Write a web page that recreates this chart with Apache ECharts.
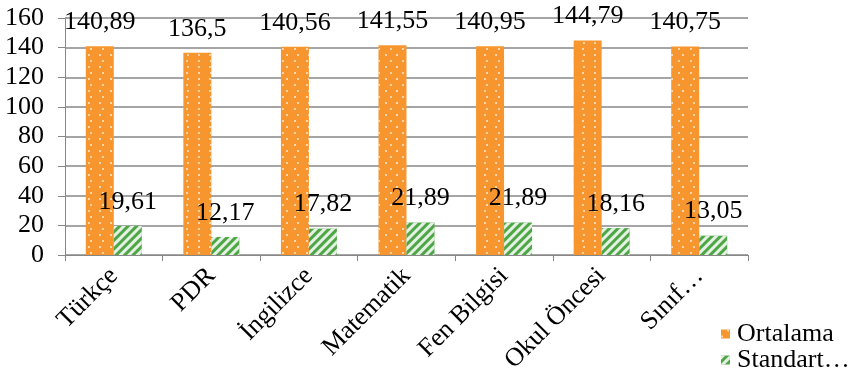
<!DOCTYPE html>
<html>
<head>
<meta charset="utf-8">
<script src="https://cdn.jsdelivr.net/npm/echarts@6/dist/echarts.min.js"></script>
<style>
  html, body { margin: 0; padding: 0; background: #fff; }
  #chart { width: 861px; height: 383px; }
</style>
</head>
<body>
<div id="chart"></div>
<script>
// Bölüm kategorileri ve seriler
const categories = ['Türkçe', 'PDR', 'İngilizce', 'Matematik', 'Fen Bilgisi', 'Okul Öncesi', 'Sınıf…'];
const ortalama = [140.89, 136.5, 140.56, 141.55, 140.95, 144.79, 140.75];
const standartSapma = [19.61, 12.17, 17.82, 21.89, 21.89, 18.16, 13.05];
const seriesNames = ['Ortalama', 'Standart…'];
const yTicks = [0, 20, 40, 60, 80, 100, 120, 140, 160];

const FONT = '"Liberation Serif", "Times New Roman", serif';
const GRAY = '#878787';

// Türkçe ondalık ayırıcı (virgül)
const fmt = v => String(v).replace('.', ',');

const chart = echarts.init(document.getElementById('chart'), null, { renderer: 'canvas' });

const labelStyle = {
  show: true,
  position: 'top',
  distance: 11,
  color: '#000',
  fontFamily: FONT,
  fontSize: 26,
  formatter: p => fmt(p.value)
};

chart.setOption({
  animation: false,
  backgroundColor: '#fff',
  grid: { left: 65, right: 113, top: 18, bottom: 128, containLabel: false },
  legend: {
    orient: 'vertical',
    left: 716,
    top: 316,
    itemWidth: 9,
    itemHeight: 9,
    itemGap: 0,
    icon: 'rect',
    textStyle: { fontFamily: FONT, fontSize: 26, lineHeight: 24, color: '#000', padding: [0, 0, 0, 2] },
    data: seriesNames
  },
  xAxis: {
    type: 'category',
    data: categories,
    axisLine: { lineStyle: { color: GRAY, width: 1 } },
    axisTick: { show: true, length: 6, lineStyle: { color: GRAY } },
    axisLabel: {
      rotate: 45,
      interval: 0,
      margin: 17,
      color: '#000',
      fontFamily: FONT,
      fontSize: 26
    }
  },
  yAxis: {
    type: 'value',
    min: yTicks[0],
    max: yTicks[yTicks.length - 1],
    interval: yTicks[1] - yTicks[0],
    axisLine: { show: true, lineStyle: { color: GRAY, width: 1 } },
    axisTick: { show: true, length: 7, lineStyle: { color: GRAY } },
    splitLine: { lineStyle: { color: GRAY, width: 1.5 } },
    axisLabel: {
      margin: 21,
      color: '#000',
      fontFamily: FONT,
      fontSize: 26
    }
  },
  series: [
    {
      name: seriesNames[0],
      type: 'bar',
      data: ortalama,
      barWidth: 28,
      barGap: '0%',
      itemStyle: {
        color: '#F7962F',
        decal: {
          symbol: 'rect',
          symbolSize: 1,
          color: 'rgba(255,255,255,0.6)',
          dashArrayX: [[2, 9], [0, 5.5, 2, 3.5]],
          dashArrayY: [2, 3.5]
        }
      },
      label: labelStyle
    },
    {
      name: seriesNames[1],
      type: 'bar',
      data: standartSapma,
      barWidth: 28,
      barGap: '0%',
      itemStyle: {
        color: '#4EA646',
        decal: {
          symbol: 'rect',
          symbolSize: 1,
          color: 'rgba(255,255,255,0.85)',
          dashArrayX: [1, 0],
          dashArrayY: [2.5, 3],
          rotation: -Math.PI / 4
        }
      },
      label: labelStyle
    }
  ]
});
</script>
</body>
</html>
